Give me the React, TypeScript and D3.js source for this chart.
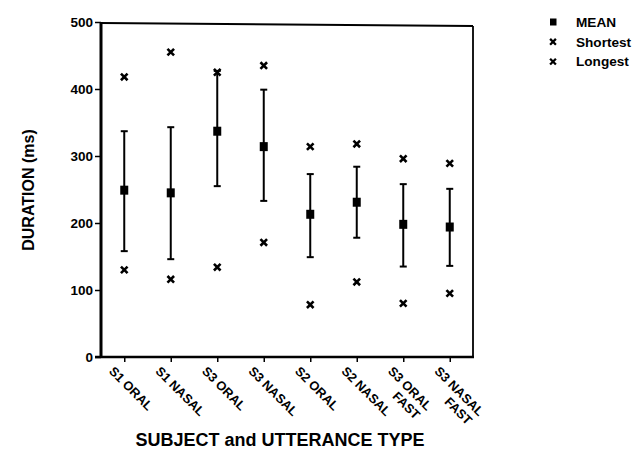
import React, { useEffect, useRef } from 'react';
import * as d3 from 'd3';

const categories = ['S1 ORAL', 'S1 NASAL', 'S3 ORAL', 'S3 NASAL', 'S2 ORAL', 'S2 NASAL', 'S3 ORAL FAST', 'S3 NASAL FAST'];
const labelLines = [['S1 ORAL'], ['S1 NASAL'], ['S3 ORAL'], ['S3 NASAL'], ['S2 ORAL'], ['S2 NASAL'], ['S3 ORAL', 'FAST'], ['S3 NASAL', 'FAST']];
const means = [249, 245, 337, 314, 213, 231, 198, 194];
const upper = [337, 343, 427, 399, 273, 284, 258, 251];
const lower = [158, 146, 255, 233, 149, 178, 135, 136];
const longest = [418, 455, 425, 435, 314, 318, 296, 289];
const shortest = [130, 116, 134, 171, 78, 112, 80, 95];
const yTicks = [0, 100, 200, 300, 400, 500];
const legendItems = ['MEAN', 'Shortest', 'Longest'];

const FONT = '"Liberation Sans", Arial, Helvetica, sans-serif';

const App: React.FC = () => {
  const svgRef = useRef<SVGSVGElement>(null);

  useEffect(() => {
    if (!svgRef.current) return;
    const svg = d3.select(svgRef.current);
    svg.selectAll('*').remove();

    const left = 101, right = 473, top = 22, bottom = 357;

    const x = d3.scalePoint<string>().domain(categories).range([left, right]).padding(0.5);
    const y = d3.scaleLinear().domain([0, 500]).range([bottom, top]);

    // box (top + right)
    svg.append('line').attr('x1', left).attr('x2', right).attr('y1', top + 1).attr('y2', top + 4)
      .attr('stroke', '#000').attr('stroke-width', 1.8);
    svg.append('line').attr('x1', right).attr('x2', right).attr('y1', top + 4).attr('y2', bottom)
      .attr('stroke', '#000').attr('stroke-width', 1.8);

    // y axis
    const yAxis = svg.append('g').attr('transform', `translate(${left},0)`)
      .call(d3.axisLeft(y).tickValues(yTicks).tickSize(6).tickPadding(2).tickFormat(d3.format('d')));
    yAxis.select('.domain').remove();
    yAxis.selectAll('line').attr('stroke', '#000').attr('stroke-width', 1.5);
    yAxis.selectAll('text').attr('font-family', FONT).attr('font-weight', 'bold').attr('font-size', 13.5).attr('fill', '#000');

    // x axis
    const xAxis = svg.append('g').attr('transform', `translate(0,${bottom})`)
      .call(d3.axisBottom(x).tickSize(5).tickFormat(() => ''));
    xAxis.select('.domain').remove();
    xAxis.selectAll('line').attr('stroke', '#000').attr('stroke-width', 1.5);

    svg.append('line').attr('x1', left).attr('x2', left).attr('y1', top).attr('y2', bottom + 1)
      .attr('stroke', '#000').attr('stroke-width', 3);
    svg.append('line').attr('x1', left - 6).attr('x2', right + 1).attr('y1', bottom).attr('y2', bottom)
      .attr('stroke', '#000').attr('stroke-width', 2.5);

    // x labels, rotated
    categories.forEach((c, i) => {
      const g = svg.append('g')
        .attr('transform', `translate(${(x(c) || 0) - 16},${bottom + 15}) rotate(45)`);
      const lines = labelLines[i];
      const t0 = g.append('text').text(lines[0])
        .attr('font-family', FONT).attr('font-weight', 'bold').attr('font-size', 12.8).attr('fill', '#000');
      if (lines.length > 1) {
        const w = (t0.node() as SVGTextElement).getComputedTextLength();
        g.append('text').text(lines[1])
          .attr('x', w - 2).attr('y', 14.5).attr('text-anchor', 'end')
          .attr('font-family', FONT).attr('font-weight', 'bold').attr('font-size', 12.8).attr('fill', '#000');
      }
    });

    // error bars
    const bars = svg.append('g');
    categories.forEach((c, i) => {
      const cx = x(c) || 0;
      bars.append('line').attr('x1', cx).attr('x2', cx).attr('y1', y(upper[i])).attr('y2', y(lower[i]))
        .attr('stroke', '#000').attr('stroke-width', 2);
      [upper[i], lower[i]].forEach(v => {
        bars.append('line').attr('x1', cx - 3.5).attr('x2', cx + 3.5).attr('y1', y(v)).attr('y2', y(v))
          .attr('stroke', '#000').attr('stroke-width', 2);
      });
    });

    // mean squares
    svg.append('g').selectAll('rect').data(means).enter().append('rect')
      .attr('x', (_, i) => (x(categories[i]) || 0) - 4)
      .attr('y', d => y(d) - 4.5)
      .attr('width', 8).attr('height', 9).attr('fill', '#000');

    const cross = (s: number) => `M${-s},${-s}L${s},${s}M${-s},${s}L${s},${-s}`;

    // shortest / longest crosses
    const marks = svg.append('g');
    [shortest, longest].forEach(arr => {
      marks.selectAll(null).data(arr).enter().append('path')
        .attr('d', cross(3.3))
        .attr('transform', (d, i) => `translate(${x(categories[i])},${y(d)})`)
        .attr('stroke', '#000').attr('stroke-width', 2.6).attr('fill', 'none');
    });

    // legend
    const legend = svg.append('g');
    legendItems.forEach((name, i) => {
      const ly = 22 + i * 19.8;
      if (i === 0) {
        legend.append('rect').attr('x', 550).attr('y', ly - 3.5).attr('width', 6.5).attr('height', 7).attr('fill', '#000');
      } else {
        legend.append('path').attr('d', cross(2.9)).attr('transform', `translate(553,${ly})`)
          .attr('stroke', '#000').attr('stroke-width', 2.3).attr('fill', 'none');
      }
      legend.append('text').text(name).attr('x', 576).attr('y', ly).attr('dy', '0.35em')
        .attr('font-family', FONT).attr('font-weight', 'bold').attr('font-size', 13.6).attr('fill', '#000');
    });

    // axis titles
    svg.append('text').text('DURATION (ms)')
      .attr('transform', `translate(34,190) rotate(-90)`).attr('text-anchor', 'middle')
      .attr('font-family', FONT).attr('font-weight', 'bold').attr('font-size', 16).attr('fill', '#000');
    svg.append('text').text('SUBJECT and UTTERANCE TYPE')
      .attr('x', 280).attr('y', 446).attr('text-anchor', 'middle')
      .attr('font-family', FONT).attr('font-weight', 'bold').attr('font-size', 18).attr('fill', '#000');
  }, []);

  return (
    <svg ref={svgRef} width={639} height={453}
      style={{ position: 'absolute', left: 0, top: 0, background: '#fff' }} />
  );
};

export default App;
